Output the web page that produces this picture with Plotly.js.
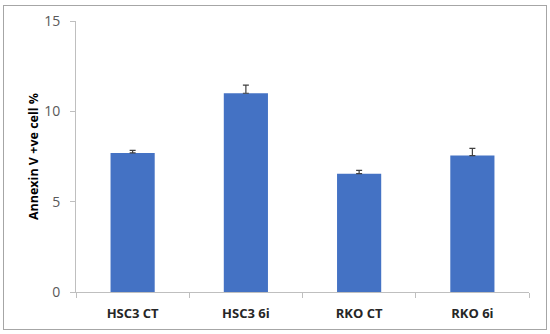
<!DOCTYPE html>
<html>
<head>
<meta charset="utf-8">
<script src="https://cdn.plot.ly/plotly-3.0.1.min.js"></script>
<style>
  html, body { margin: 0; padding: 0; background: #fff; }
  #wrap { position: relative; width: 550px; height: 334px; }
  #chart { width: 550px; height: 334px; }
  #frame { position: absolute; left: 3px; top: 5px; width: 542px; height: 323px; border: 1px solid #a6a6a6; pointer-events: none; }
</style>
</head>
<body>
<div id="wrap">
  <div id="chart"></div>
  <div id="frame"></div>
</div>
<script>
const categories = ["HSC3 CT", "HSC3 6i", "RKO CT", "RKO 6i"];
const values = [7.7, 11.0, 6.55, 7.55];
const errors = [0.14, 0.45, 0.18, 0.4];
const yTicks = [0, 5, 10, 15];

const trace = {
  type: "bar",
  x: categories,
  y: values,
  marker: { color: "#4472C4", line: { width: 0 } },
  error_y: { type: "data", array: errors, symmetric: false, arrayminus: errors.map(() => 0), visible: true, color: "#404040", thickness: 1.2, width: 3 },
  width: 0.39,
  hoverinfo: "none"
};

const layout = {
  width: 550, height: 334,
  margin: { l: 76, r: 21, t: 21, b: 42 },
  paper_bgcolor: "rgba(0,0,0,0)",
  plot_bgcolor: "#fff",
  showlegend: false,
  font: { family: "Open Sans, Liberation Sans, sans-serif", color: "#595959" },
  xaxis: {
    type: "category",
    tickson: "boundaries",
    ticks: "outside",
    ticklen: 5,
    tickcolor: "#bfbfbf",
    showline: true,
    linecolor: "#bfbfbf",
    linewidth: 1,
    showgrid: false,
    zeroline: false,
    ticklabelstandoff: 9,
    tickfont: { family: "Open Sans, sans-serif", size: 13, color: "#262626", weight: "bold" }
  },
  yaxis: {
    range: [0, 15],
    tickvals: yTicks,
    ticktext: yTicks.map(String),
    ticks: "outside",
    ticklen: 5,
    tickcolor: "#bfbfbf",
    showline: true,
    linecolor: "#bfbfbf",
    linewidth: 1,
    showgrid: false,
    zeroline: false,
    ticklabelstandoff: 7,
    tickfont: { family: "Open Sans, sans-serif", size: 14, color: "#595959" },
    title: { text: "Annexin V +ve cell %", font: { family: "Open Sans, sans-serif", size: 12.5, color: "#000", weight: "bold" }, standoff: 2 }
  }
};

Plotly.newPlot("chart", [trace], layout, { displayModeBar: false, staticPlot: true });
</script>
</body>
</html>
